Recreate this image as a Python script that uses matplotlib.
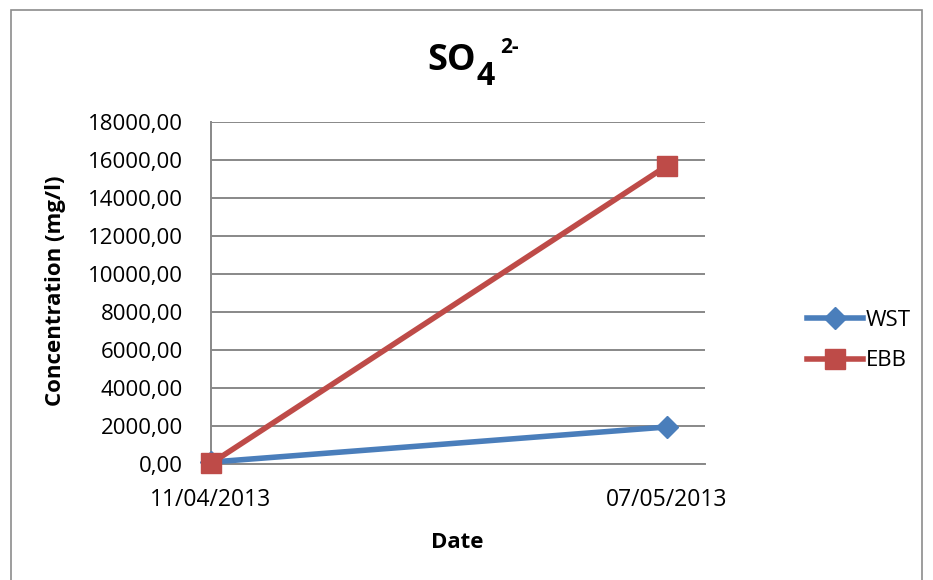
import matplotlib
matplotlib.use("Agg")
import matplotlib.pyplot as plt
from matplotlib.patches import Rectangle

dates = ["11/04/2013", "07/05/2013"]
wst = [100.0, 1950.0]
ebb = [30.0, 15700.0]
yticks = [0, 2000, 4000, 6000, 8000, 10000, 12000, 14000, 16000, 18000]

plt.rcParams['font.family'] = ['Open Sans', 'DejaVu Sans']

W, H = 933, 580
fig = plt.figure(figsize=(W/100, H/100), dpi=100)
ax = fig.add_axes([211/W, 1-464/H, (705-211)/W, (464-122)/H])

x = list(range(len(dates)))
ax.plot(x, wst, color='#4A7EBB', lw=4, marker='D', ms=11, label='WST', zorder=3, clip_on=False)
ax.plot(x, ebb, color='#BE4B48', lw=4, marker='s', ms=15, label='EBB', zorder=4, clip_on=False)

ax.set_xlim(0, 1 + (705-667)/(667-211))
ax.set_ylim(0, 18000)
ax.set_yticks(yticks)
ax.set_yticklabels([f"{v:.2f}".replace('.', ',') for v in yticks], fontsize=16)
ax.set_xticks(x)
ax.set_xticklabels(dates, fontsize=16.5)
ax.grid(axis='y', color='#888888', lw=1.4)
ax.set_axisbelow(True)
for s in ['top', 'right']:
    ax.spines[s].set_visible(False)
for s in ['left', 'bottom']:
    ax.spines[s].set_color('#888888')
    ax.spines[s].set_linewidth(1.4)
ax.tick_params(axis='y', length=0, pad=20)
ax.tick_params(axis='x', length=0, pad=17)

fig.text(56/W, 1-291/H, 'Concentration (mg/l)', fontsize=16, fontweight='bold',
         rotation=90, ha='center', va='center')
fig.text(457/W, 1-548/H, 'Date', fontsize=16, fontweight='bold', ha='center', va='baseline')

# title SO4 2-
fig.text(427/W, 1-70/H, 'SO', fontsize=26, fontweight='bold', ha='left', va='baseline')
fig.text(476/W, 1-85/H, '4', fontsize=23, fontweight='bold', ha='left', va='baseline')
fig.text(500/W, 1-53/H, '2-', fontsize=15, fontweight='bold', ha='left', va='baseline')

ax.legend(loc='center left', bbox_to_anchor=(807/W, 1-340.5/H), bbox_transform=fig.transFigure,
          frameon=False, fontsize=16, handlelength=2.5, labelspacing=0.9, handletextpad=0.15,
          borderpad=0, borderaxespad=0)

fig.patches.append(Rectangle((11/W, -0.01), (922-11)/W, 1 - 10/H + 0.01, transform=fig.transFigure,
                             fill=False, edgecolor='#8c8c8c', lw=1.2))
fig.savefig('out.png', dpi=100)
